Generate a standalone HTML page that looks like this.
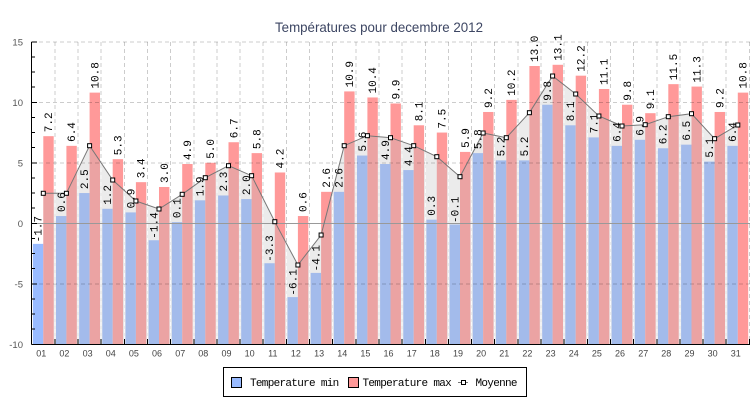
<!DOCTYPE html>
<html><head><meta charset="utf-8"><style>
html,body{margin:0;padding:0;background:#fff;}
svg{display:block;}
.b{fill:#99bbff;}
.r{fill:#ff9999;}
.v{font-family:"Liberation Mono",monospace;font-size:11px;fill:#000;}
.xl{font-family:"Liberation Sans",sans-serif;font-size:9px;fill:#444;text-anchor:middle;}
.yl{font-family:"Liberation Sans",sans-serif;font-size:9.5px;fill:#555;text-anchor:end;}
.lg{font-family:"Liberation Mono",monospace;font-size:11px;fill:#000;letter-spacing:-0.7px;}
</style></head><body>
<svg width="750" height="400" viewBox="0 0 750 400" xmlns="http://www.w3.org/2000/svg">
<defs>
<clipPath id="ac"><polygon points="43.3,344 43.3,193.3 66.4,193.3 89.6,145.7 112.7,180 135.9,201 159.0,209 182.2,194.3 205.3,177.7 228.5,165.7 251.6,175.7 274.8,221.7 297.9,265 321.1,235 344.2,145.7 367.4,135.7 390.5,137.7 413.7,145.7 436.8,156.7 460.0,176.7 483.1,133 506.3,137.7 529.4,112.7 552.6,76 575.7,94 598.9,116 622.0,126 645.2,124.7 668.3,116.7 691.5,113.7 714.6,138.7 737.8,125 737.8,344"/></clipPath>
<mask id="am"><rect x="0" y="0" width="750" height="400" fill="#fff"/><polygon fill="#000" points="43.3,344 43.3,193.3 66.4,193.3 89.6,145.7 112.7,180 135.9,201 159.0,209 182.2,194.3 205.3,177.7 228.5,165.7 251.6,175.7 274.8,221.7 297.9,265 321.1,235 344.2,145.7 367.4,135.7 390.5,137.7 413.7,145.7 436.8,156.7 460.0,176.7 483.1,133 506.3,137.7 529.4,112.7 552.6,76 575.7,94 598.9,116 622.0,126 645.2,124.7 668.3,116.7 691.5,113.7 714.6,138.7 737.8,125 737.8,344"/></mask>
</defs>
<rect x="0" y="0" width="750" height="400" fill="#fff"/>
<text x="379" y="32" font-family="'Liberation Sans',sans-serif" font-size="14" fill="#3d4663" text-anchor="middle" textLength="208" lengthAdjust="spacingAndGlyphs">Températures pour decembre 2012</text>

<!-- bars (from bottom of scale) -->
<g transform="translate(43.3 0)"><rect class="b" x="-10.4" y="243.87" width="10.4" height="100.13"/><rect class="r" x="0" y="136.18" width="10.4" height="207.82"/></g>
<g transform="translate(66.4 0)"><rect class="b" x="-10.4" y="216.04" width="10.4" height="127.96"/><rect class="r" x="0" y="145.86" width="10.4" height="198.14"/></g>
<g transform="translate(89.6 0)"><rect class="b" x="-10.4" y="193.05" width="10.4" height="150.95"/><rect class="r" x="0" y="92.62" width="10.4" height="251.38"/></g>
<g transform="translate(112.7 0)"><rect class="b" x="-10.4" y="208.78" width="10.4" height="135.22"/><rect class="r" x="0" y="159.17" width="10.4" height="184.83"/></g>
<g transform="translate(135.9 0)"><rect class="b" x="-10.4" y="212.41" width="10.4" height="131.59"/><rect class="r" x="0" y="182.16" width="10.4" height="161.84"/></g>
<g transform="translate(159.0 0)"><rect class="b" x="-10.4" y="240.24" width="10.4" height="103.76"/><rect class="r" x="0" y="187.0" width="10.4" height="157.0"/></g>
<g transform="translate(182.2 0)"><rect class="b" x="-10.4" y="222.09" width="10.4" height="121.91"/><rect class="r" x="0" y="164.01" width="10.4" height="179.99"/></g>
<g transform="translate(205.3 0)"><rect class="b" x="-10.4" y="200.31" width="10.4" height="143.69"/><rect class="r" x="0" y="162.8" width="10.4" height="181.2"/></g>
<g transform="translate(228.5 0)"><rect class="b" x="-10.4" y="195.47" width="10.4" height="148.53"/><rect class="r" x="0" y="142.23" width="10.4" height="201.77"/></g>
<g transform="translate(251.6 0)"><rect class="b" x="-10.4" y="199.1" width="10.4" height="144.9"/><rect class="r" x="0" y="153.12" width="10.4" height="190.88"/></g>
<g transform="translate(274.8 0)"><rect class="b" x="-10.4" y="263.23" width="10.4" height="80.77"/><rect class="r" x="0" y="172.48" width="10.4" height="171.52"/></g>
<g transform="translate(297.9 0)"><rect class="b" x="-10.4" y="297.11" width="10.4" height="46.89"/><rect class="r" x="0" y="216.04" width="10.4" height="127.96"/></g>
<g transform="translate(321.1 0)"><rect class="b" x="-10.4" y="272.91" width="10.4" height="71.09"/><rect class="r" x="0" y="191.84" width="10.4" height="152.16"/></g>
<g transform="translate(344.2 0)"><rect class="b" x="-10.4" y="191.84" width="10.4" height="152.16"/><rect class="r" x="0" y="91.41" width="10.4" height="252.59"/></g>
<g transform="translate(367.4 0)"><rect class="b" x="-10.4" y="155.54" width="10.4" height="188.46"/><rect class="r" x="0" y="97.46" width="10.4" height="246.54"/></g>
<g transform="translate(390.5 0)"><rect class="b" x="-10.4" y="164.01" width="10.4" height="179.99"/><rect class="r" x="0" y="103.51" width="10.4" height="240.49"/></g>
<g transform="translate(413.7 0)"><rect class="b" x="-10.4" y="170.06" width="10.4" height="173.94"/><rect class="r" x="0" y="125.29" width="10.4" height="218.71"/></g>
<g transform="translate(436.8 0)"><rect class="b" x="-10.4" y="219.67" width="10.4" height="124.33"/><rect class="r" x="0" y="132.55" width="10.4" height="211.45"/></g>
<g transform="translate(460.0 0)"><rect class="b" x="-10.4" y="224.51" width="10.4" height="119.49"/><rect class="r" x="0" y="151.91" width="10.4" height="192.09"/></g>
<g transform="translate(483.1 0)"><rect class="b" x="-10.4" y="153.12" width="10.4" height="190.88"/><rect class="r" x="0" y="111.98" width="10.4" height="232.02"/></g>
<g transform="translate(506.3 0)"><rect class="b" x="-10.4" y="160.38" width="10.4" height="183.62"/><rect class="r" x="0" y="99.88" width="10.4" height="244.12"/></g>
<g transform="translate(529.4 0)"><rect class="b" x="-10.4" y="160.38" width="10.4" height="183.62"/><rect class="r" x="0" y="66.0" width="10.4" height="278.0"/></g>
<g transform="translate(552.6 0)"><rect class="b" x="-10.4" y="104.72" width="10.4" height="239.28"/><rect class="r" x="0" y="64.79" width="10.4" height="279.21"/></g>
<g transform="translate(575.7 0)"><rect class="b" x="-10.4" y="125.29" width="10.4" height="218.71"/><rect class="r" x="0" y="75.68" width="10.4" height="268.32"/></g>
<g transform="translate(598.9 0)"><rect class="b" x="-10.4" y="137.39" width="10.4" height="206.61"/><rect class="r" x="0" y="88.99" width="10.4" height="255.01"/></g>
<g transform="translate(622.0 0)"><rect class="b" x="-10.4" y="145.86" width="10.4" height="198.14"/><rect class="r" x="0" y="104.72" width="10.4" height="239.28"/></g>
<g transform="translate(645.2 0)"><rect class="b" x="-10.4" y="139.81" width="10.4" height="204.19"/><rect class="r" x="0" y="113.19" width="10.4" height="230.81"/></g>
<g transform="translate(668.3 0)"><rect class="b" x="-10.4" y="148.28" width="10.4" height="195.72"/><rect class="r" x="0" y="84.15" width="10.4" height="259.85"/></g>
<g transform="translate(691.5 0)"><rect class="b" x="-10.4" y="144.65" width="10.4" height="199.35"/><rect class="r" x="0" y="86.57" width="10.4" height="257.43"/></g>
<g transform="translate(714.6 0)"><rect class="b" x="-10.4" y="161.59" width="10.4" height="182.41"/><rect class="r" x="0" y="111.98" width="10.4" height="232.02"/></g>
<g transform="translate(737.8 0)"><rect class="b" x="-10.4" y="145.86" width="10.4" height="198.14"/><rect class="r" x="0" y="92.62" width="10.4" height="251.38"/></g>

<!-- area under moyenne -->
<polygon fill="rgb(188,188,188)" fill-opacity="0.3" points="43.3,344 43.3,193.3 66.4,193.3 89.6,145.7 112.7,180 135.9,201 159.0,209 182.2,194.3 205.3,177.7 228.5,165.7 251.6,175.7 274.8,221.7 297.9,265 321.1,235 344.2,145.7 367.4,135.7 390.5,137.7 413.7,145.7 436.8,156.7 460.0,176.7 483.1,133 506.3,137.7 529.4,112.7 552.6,76 575.7,94 598.9,116 622.0,126 645.2,124.7 668.3,116.7 691.5,113.7 714.6,138.7 737.8,125 737.8,344"/>

<!-- grid -->
<g stroke="#000" stroke-opacity="0.2" stroke-width="1" stroke-dasharray="4,3" fill="none" shape-rendering="crispEdges">
<path d="M32 41.8H750M32 102.3H750M32 162.8H750M32 283.8H750"/>
</g>
<g id="vg" stroke="#000" stroke-opacity="0.2" stroke-width="1" stroke-dasharray="4,3" fill="none" shape-rendering="crispEdges" mask="url(#am)">
<path d="M54.85 42V344M78 42V344M101.15 42V344M124.3 42V344M147.45 42V344M170.6 42V344M193.75 42V344M216.9 42V344M240.05 42V344M263.2 42V344M286.35 42V344M309.5 42V344M332.65 42V344M355.8 42V344M378.95 42V344M402.1 42V344M425.25 42V344M448.4 42V344M471.55 42V344M494.7 42V344M517.85 42V344M541 42V344M564.15 42V344M587.3 42V344M610.45 42V344M633.6 42V344M656.75 42V344M679.9 42V344M703.05 42V344M726.2 42V344M749.35 42V344"/>
</g>
<g stroke="#fff" stroke-opacity="0.75" stroke-width="1" stroke-dasharray="4,3" fill="none" shape-rendering="crispEdges" clip-path="url(#ac)">
<path d="M54.85 42V344M78 42V344M101.15 42V344M124.3 42V344M147.45 42V344M170.6 42V344M193.75 42V344M216.9 42V344M240.05 42V344M263.2 42V344M286.35 42V344M309.5 42V344M332.65 42V344M355.8 42V344M378.95 42V344M402.1 42V344M425.25 42V344M448.4 42V344M471.55 42V344M494.7 42V344M517.85 42V344M541 42V344M564.15 42V344M587.3 42V344M610.45 42V344M633.6 42V344M656.75 42V344M679.9 42V344M703.05 42V344M726.2 42V344"/>
</g>
<!-- zero line -->
<path d="M32 223.5H750" stroke="#999" stroke-width="1" shape-rendering="crispEdges"/>

<!-- axes -->
<g stroke="#000" stroke-width="1" fill="none" shape-rendering="crispEdges">
<path d="M31.5 41.8V344.5M31.5 344.5H750"/>
<path d="M31.5 41.8H37M31.5 102.3H37M31.5 162.8H37M31.5 223.3H37M31.5 283.8H37"/>
<path d="M31.5 56.9H35M31.5 72.05H35M31.5 87.2H35M31.5 117.4H35M31.5 132.5H35M31.5 147.7H35M31.5 177.9H35M31.5 193.05H35M31.5 208.2H35M31.5 238.4H35M31.5 253.5H35M31.5 268.7H35M31.5 298.9H35M31.5 314.05H35M31.5 329.2H35"/>
<path d="M54.85 339V344M78 339V344M101.15 339V344M124.3 339V344M147.45 339V344M170.6 339V344M193.75 339V344M216.9 339V344M240.05 339V344M263.2 339V344M286.35 339V344M309.5 339V344M332.65 339V344M355.8 339V344M378.95 339V344M402.1 339V344M425.25 339V344M448.4 339V344M471.55 339V344M494.7 339V344M517.85 339V344M541 339V344M564.15 339V344M587.3 339V344M610.45 339V344M633.6 339V344M656.75 339V344M679.9 339V344M703.05 339V344M726.2 339V344M749.35 339V344"/>
</g>

<!-- y labels -->
<text class="yl" x="23" y="45.3">15</text>
<text class="yl" x="23" y="105.8">10</text>
<text class="yl" x="23" y="166.3">5</text>
<text class="yl" x="23" y="226.8">0</text>
<text class="yl" x="23" y="287.3">-5</text>
<text class="yl" x="23" y="347.8">-10</text>

<!-- x labels -->
<text class="xl" x="41.3" y="356.5">01</text><text class="xl" x="64.4" y="356.5">02</text><text class="xl" x="87.6" y="356.5">03</text><text class="xl" x="110.7" y="356.5">04</text><text class="xl" x="133.9" y="356.5">05</text><text class="xl" x="157.0" y="356.5">06</text><text class="xl" x="180.2" y="356.5">07</text><text class="xl" x="203.3" y="356.5">08</text><text class="xl" x="226.5" y="356.5">09</text><text class="xl" x="249.6" y="356.5">10</text><text class="xl" x="272.8" y="356.5">11</text><text class="xl" x="295.9" y="356.5">12</text><text class="xl" x="319.1" y="356.5">13</text><text class="xl" x="342.2" y="356.5">14</text><text class="xl" x="365.4" y="356.5">15</text><text class="xl" x="388.5" y="356.5">16</text><text class="xl" x="411.7" y="356.5">17</text><text class="xl" x="434.8" y="356.5">18</text><text class="xl" x="458.0" y="356.5">19</text><text class="xl" x="481.1" y="356.5">20</text><text class="xl" x="504.3" y="356.5">21</text><text class="xl" x="527.4" y="356.5">22</text><text class="xl" x="550.6" y="356.5">23</text><text class="xl" x="573.7" y="356.5">24</text><text class="xl" x="596.9" y="356.5">25</text><text class="xl" x="620.0" y="356.5">26</text><text class="xl" x="643.2" y="356.5">27</text><text class="xl" x="666.3" y="356.5">28</text><text class="xl" x="689.5" y="356.5">29</text><text class="xl" x="712.6" y="356.5">30</text><text class="xl" x="735.8" y="356.5">31</text>

<!-- moyenne line -->
<polyline fill="none" stroke="#777" stroke-width="1" points="43.3,193.3 66.4,193.3 89.6,145.7 112.7,180 135.9,201 159.0,209 182.2,194.3 205.3,177.7 228.5,165.7 251.6,175.7 274.8,221.7 297.9,265 321.1,235 344.2,145.7 367.4,135.7 390.5,137.7 413.7,145.7 436.8,156.7 460.0,176.7 483.1,133 506.3,137.7 529.4,112.7 552.6,76 575.7,94 598.9,116 622.0,126 645.2,124.7 668.3,116.7 691.5,113.7 714.6,138.7 737.8,125"/>
<g fill="#fff" stroke="#000" stroke-width="1">
<rect x="41.3" y="191.3" width="4" height="4"/><rect x="64.4" y="191.3" width="4" height="4"/><rect x="87.6" y="143.7" width="4" height="4"/><rect x="110.7" y="178" width="4" height="4"/><rect x="133.9" y="199" width="4" height="4"/><rect x="157.0" y="207" width="4" height="4"/><rect x="180.2" y="192.3" width="4" height="4"/><rect x="203.3" y="175.7" width="4" height="4"/><rect x="226.5" y="163.7" width="4" height="4"/><rect x="249.6" y="173.7" width="4" height="4"/><rect x="272.8" y="219.7" width="4" height="4"/><rect x="295.9" y="263" width="4" height="4"/><rect x="319.1" y="233" width="4" height="4"/><rect x="342.2" y="143.7" width="4" height="4"/><rect x="365.4" y="133.7" width="4" height="4"/><rect x="388.5" y="135.7" width="4" height="4"/><rect x="411.7" y="143.7" width="4" height="4"/><rect x="434.8" y="154.7" width="4" height="4"/><rect x="458.0" y="174.7" width="4" height="4"/><rect x="481.1" y="131" width="4" height="4"/><rect x="504.3" y="135.7" width="4" height="4"/><rect x="527.4" y="110.7" width="4" height="4"/><rect x="550.6" y="74" width="4" height="4"/><rect x="573.7" y="92" width="4" height="4"/><rect x="596.9" y="114" width="4" height="4"/><rect x="620.0" y="124" width="4" height="4"/><rect x="643.2" y="122.7" width="4" height="4"/><rect x="666.3" y="114.7" width="4" height="4"/><rect x="689.5" y="111.7" width="4" height="4"/><rect x="712.6" y="136.7" width="4" height="4"/><rect x="735.8" y="123" width="4" height="4"/>
</g>

<!-- value labels -->
<g class="v">
<g transform="translate(43.3 0)"><text transform="translate(-1.6 242.4) rotate(-90)">-1.7</text><text transform="translate(8.8 132.2) rotate(-90)">7.2</text></g>
<g transform="translate(66.4 0)"><text transform="translate(-1.6 212.0) rotate(-90)">0.6</text><text transform="translate(8.8 141.9) rotate(-90)">6.4</text></g>
<g transform="translate(89.6 0)"><text transform="translate(-1.6 189.1) rotate(-90)">2.5</text><text transform="translate(8.8 88.6) rotate(-90)">10.8</text></g>
<g transform="translate(112.7 0)"><text transform="translate(-1.6 204.8) rotate(-90)">1.2</text><text transform="translate(8.8 155.2) rotate(-90)">5.3</text></g>
<g transform="translate(135.9 0)"><text transform="translate(-1.6 208.4) rotate(-90)">0.9</text><text transform="translate(8.8 178.2) rotate(-90)">3.4</text></g>
<g transform="translate(159.0 0)"><text transform="translate(-1.6 238.7) rotate(-90)">-1.4</text><text transform="translate(8.8 183.0) rotate(-90)">3.0</text></g>
<g transform="translate(182.2 0)"><text transform="translate(-1.6 218.1) rotate(-90)">0.1</text><text transform="translate(8.8 160.0) rotate(-90)">4.9</text></g>
<g transform="translate(205.3 0)"><text transform="translate(-1.6 196.3) rotate(-90)">1.9</text><text transform="translate(8.8 158.8) rotate(-90)">5.0</text></g>
<g transform="translate(228.5 0)"><text transform="translate(-1.6 191.5) rotate(-90)">2.3</text><text transform="translate(8.8 138.2) rotate(-90)">6.7</text></g>
<g transform="translate(251.6 0)"><text transform="translate(-1.6 195.1) rotate(-90)">2.0</text><text transform="translate(8.8 149.1) rotate(-90)">5.8</text></g>
<g transform="translate(274.8 0)"><text transform="translate(-1.6 261.7) rotate(-90)">-3.3</text><text transform="translate(8.8 168.5) rotate(-90)">4.2</text></g>
<g transform="translate(297.9 0)"><text transform="translate(-1.6 295.6) rotate(-90)">-6.1</text><text transform="translate(8.8 212.0) rotate(-90)">0.6</text></g>
<g transform="translate(321.1 0)"><text transform="translate(-1.6 271.4) rotate(-90)">-4.1</text><text transform="translate(8.8 187.8) rotate(-90)">2.6</text></g>
<g transform="translate(344.2 0)"><text transform="translate(-1.6 187.8) rotate(-90)">2.6</text><text transform="translate(8.8 87.4) rotate(-90)">10.9</text></g>
<g transform="translate(367.4 0)"><text transform="translate(-1.6 151.5) rotate(-90)">5.6</text><text transform="translate(8.8 93.5) rotate(-90)">10.4</text></g>
<g transform="translate(390.5 0)"><text transform="translate(-1.6 160.0) rotate(-90)">4.9</text><text transform="translate(8.8 99.5) rotate(-90)">9.9</text></g>
<g transform="translate(413.7 0)"><text transform="translate(-1.6 166.1) rotate(-90)">4.4</text><text transform="translate(8.8 121.3) rotate(-90)">8.1</text></g>
<g transform="translate(436.8 0)"><text transform="translate(-1.6 215.7) rotate(-90)">0.3</text><text transform="translate(8.8 128.6) rotate(-90)">7.5</text></g>
<g transform="translate(460.0 0)"><text transform="translate(-1.6 223.0) rotate(-90)">-0.1</text><text transform="translate(8.8 147.9) rotate(-90)">5.9</text></g>
<g transform="translate(483.1 0)"><text transform="translate(-1.6 149.1) rotate(-90)">5.8</text><text transform="translate(8.8 108.0) rotate(-90)">9.2</text></g>
<g transform="translate(506.3 0)"><text transform="translate(-1.6 156.4) rotate(-90)">5.2</text><text transform="translate(8.8 95.9) rotate(-90)">10.2</text></g>
<g transform="translate(529.4 0)"><text transform="translate(-1.6 156.4) rotate(-90)">5.2</text><text transform="translate(8.8 62.0) rotate(-90)">13.0</text></g>
<g transform="translate(552.6 0)"><text transform="translate(-1.6 100.7) rotate(-90)">9.8</text><text transform="translate(8.8 60.8) rotate(-90)">13.1</text></g>
<g transform="translate(575.7 0)"><text transform="translate(-1.6 121.3) rotate(-90)">8.1</text><text transform="translate(8.8 71.7) rotate(-90)">12.2</text></g>
<g transform="translate(598.9 0)"><text transform="translate(-1.6 133.4) rotate(-90)">7.1</text><text transform="translate(8.8 85.0) rotate(-90)">11.1</text></g>
<g transform="translate(622.0 0)"><text transform="translate(-1.6 141.9) rotate(-90)">6.4</text><text transform="translate(8.8 100.7) rotate(-90)">9.8</text></g>
<g transform="translate(645.2 0)"><text transform="translate(-1.6 135.8) rotate(-90)">6.9</text><text transform="translate(8.8 109.2) rotate(-90)">9.1</text></g>
<g transform="translate(668.3 0)"><text transform="translate(-1.6 144.3) rotate(-90)">6.2</text><text transform="translate(8.8 80.2) rotate(-90)">11.5</text></g>
<g transform="translate(691.5 0)"><text transform="translate(-1.6 140.6) rotate(-90)">6.5</text><text transform="translate(8.8 82.6) rotate(-90)">11.3</text></g>
<g transform="translate(714.6 0)"><text transform="translate(-1.6 157.6) rotate(-90)">5.1</text><text transform="translate(8.8 108.0) rotate(-90)">9.2</text></g>
<g transform="translate(737.8 0)"><text transform="translate(-1.6 141.9) rotate(-90)">6.4</text><text transform="translate(8.8 88.6) rotate(-90)">10.8</text></g>
</g>

<!-- legend -->
<rect x="223.5" y="367.5" width="303" height="29" fill="#fff" stroke="#000" stroke-width="1" shape-rendering="crispEdges"/>
<rect x="231.5" y="377.5" width="10" height="10" fill="#99bbff" stroke="#000" stroke-width="1" shape-rendering="crispEdges"/>
<text class="lg" x="250" y="386">Temperature min</text>
<rect x="348.5" y="377.5" width="10" height="10" fill="#ff9999" stroke="#000" stroke-width="1" shape-rendering="crispEdges"/>
<text class="lg" x="362.5" y="386">Temperature max</text>
<path d="M458 382.5H468" stroke="#777" stroke-width="1" shape-rendering="crispEdges"/>
<rect x="461.5" y="380.5" width="4" height="4" fill="#fff" stroke="#000" stroke-width="1" shape-rendering="crispEdges"/>
<text class="lg" x="475.5" y="386">Moyenne</text>
</svg>
</body></html>
